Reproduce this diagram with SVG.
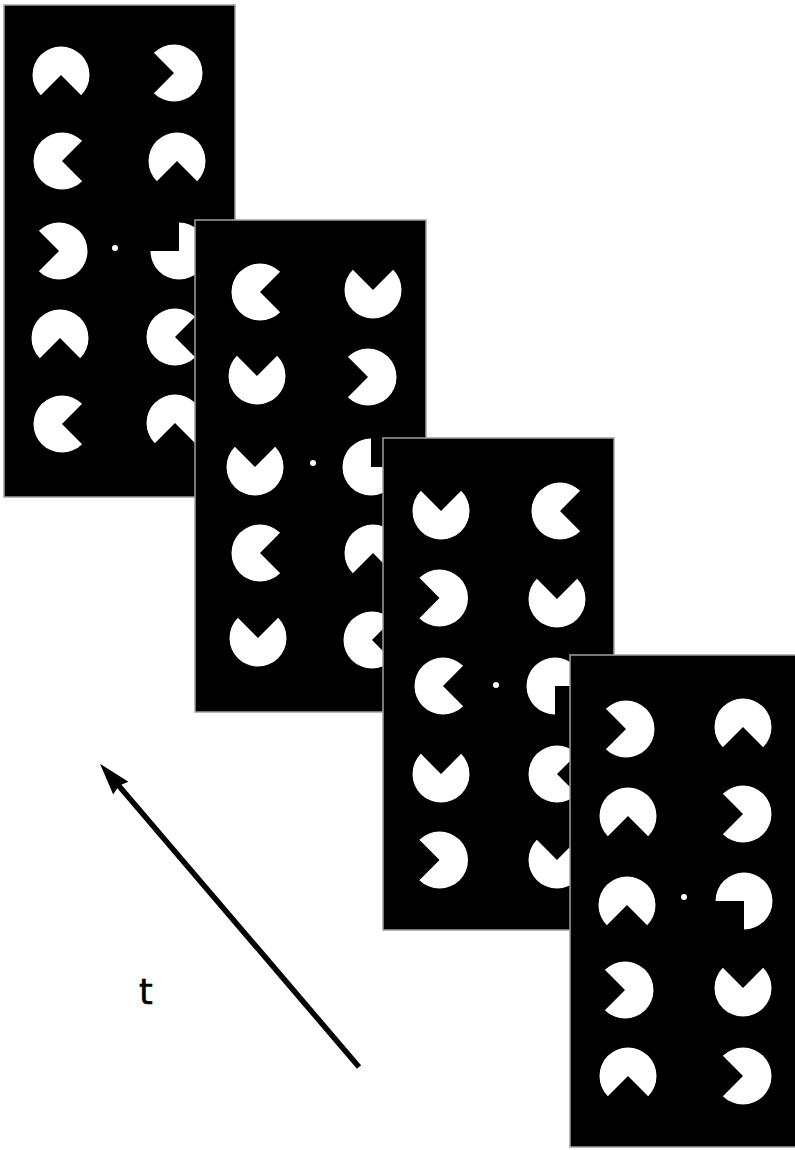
<svg xmlns="http://www.w3.org/2000/svg" xmlns:xlink="http://www.w3.org/1999/xlink" width="795" height="1150" viewBox="0 0 795 1150">
<style>
.panel{fill:#000;stroke:#a0a0a0;stroke-width:1.5}
.pac{fill:#fff}
.dot{fill:#fff}
.conn{stroke:#000;stroke-width:5.5;fill:none;stroke-linecap:butt}
.lbl{font-family:"DejaVu Sans",sans-serif;font-size:35px;fill:#000;stroke:#000;stroke-width:0.6}
</style>
<defs>
<path id="pac" class="pac" d="M0,0 L20.15,20.15 A28.5,28.5 0 1 1 20.15,-20.15 Z"/>
<marker id="ah" markerUnits="userSpaceOnUse" markerWidth="40" markerHeight="30" viewBox="-15 -15 40 30" refX="0" refY="0" orient="auto" overflow="visible">
<path d="M20,0 L-12,-10 L-9,0 L-12,10 Z" fill="#000"/>
</marker>
</defs>
<rect width="795" height="1150" fill="#fff"/>

<g id="panel1">
<rect class="panel" x="4" y="5" width="231" height="492"/>
<use xlink:href="#pac" href="#pac" transform="translate(61,75) rotate(90)"/>
<use xlink:href="#pac" href="#pac" transform="translate(174,73) rotate(180)"/>
<use xlink:href="#pac" href="#pac" transform="translate(62,161) rotate(0)"/>
<use xlink:href="#pac" href="#pac" transform="translate(177,161) rotate(90)"/>
<use xlink:href="#pac" href="#pac" transform="translate(59,251) rotate(180)"/>
<use xlink:href="#pac" href="#pac" transform="translate(179,251) rotate(225)"/>
<use xlink:href="#pac" href="#pac" transform="translate(60,338) rotate(90)"/>
<use xlink:href="#pac" href="#pac" transform="translate(175,337) rotate(0)"/>
<use xlink:href="#pac" href="#pac" transform="translate(62,424) rotate(0)"/>
<use xlink:href="#pac" href="#pac" transform="translate(175,423) rotate(90)"/>
<circle class="dot" cx="115" cy="248" r="3"/>
</g>

<g id="panel2">
<rect class="panel" x="195" y="220" width="231" height="492"/>
<use xlink:href="#pac" href="#pac" transform="translate(260,292) rotate(0)"/>
<use xlink:href="#pac" href="#pac" transform="translate(373,290) rotate(270)"/>
<use xlink:href="#pac" href="#pac" transform="translate(257,376) rotate(270)"/>
<use xlink:href="#pac" href="#pac" transform="translate(368,377) rotate(180)"/>
<use xlink:href="#pac" href="#pac" transform="translate(255,467) rotate(270)"/>
<use xlink:href="#pac" href="#pac" transform="translate(371,467) rotate(315)"/>
<use xlink:href="#pac" href="#pac" transform="translate(260,553) rotate(0)"/>
<use xlink:href="#pac" href="#pac" transform="translate(373,553) rotate(90)"/>
<use xlink:href="#pac" href="#pac" transform="translate(258,638) rotate(270)"/>
<use xlink:href="#pac" href="#pac" transform="translate(372,640) rotate(0)"/>
<circle class="dot" cx="313" cy="463" r="3"/>
</g>

<g id="panel3">
<rect class="panel" x="383" y="438" width="231" height="492"/>
<use xlink:href="#pac" href="#pac" transform="translate(441,511) rotate(270)"/>
<use xlink:href="#pac" href="#pac" transform="translate(560,511) rotate(0)"/>
<use xlink:href="#pac" href="#pac" transform="translate(439.5,598) rotate(180)"/>
<use xlink:href="#pac" href="#pac" transform="translate(557,599) rotate(270)"/>
<use xlink:href="#pac" href="#pac" transform="translate(443,686) rotate(0)"/>
<use xlink:href="#pac" href="#pac" transform="translate(555,686) rotate(45)"/>
<use xlink:href="#pac" href="#pac" transform="translate(441,774) rotate(270)"/>
<use xlink:href="#pac" href="#pac" transform="translate(557,774) rotate(0)"/>
<use xlink:href="#pac" href="#pac" transform="translate(439.5,860) rotate(180)"/>
<use xlink:href="#pac" href="#pac" transform="translate(557,860) rotate(270)"/>
<circle class="dot" cx="496" cy="685" r="3"/>
</g>

<g id="panel4">
<rect class="panel" x="570" y="655" width="231" height="492"/>
<use xlink:href="#pac" href="#pac" transform="translate(626,729) rotate(180)"/>
<use xlink:href="#pac" href="#pac" transform="translate(743,727) rotate(90)"/>
<use xlink:href="#pac" href="#pac" transform="translate(628,816) rotate(90)"/>
<use xlink:href="#pac" href="#pac" transform="translate(743,814) rotate(180)"/>
<use xlink:href="#pac" href="#pac" transform="translate(627,905) rotate(90)"/>
<use xlink:href="#pac" href="#pac" transform="translate(744,901) rotate(135)"/>
<use xlink:href="#pac" href="#pac" transform="translate(625,990) rotate(180)"/>
<use xlink:href="#pac" href="#pac" transform="translate(743,988) rotate(270)"/>
<use xlink:href="#pac" href="#pac" transform="translate(628,1076) rotate(90)"/>
<use xlink:href="#pac" href="#pac" transform="translate(743,1076) rotate(180)"/>
<circle class="dot" cx="684" cy="897" r="3"/>
</g>

<g id="connectors">
<path class="conn" d="M359,1067 L113,779" marker-end="url(#ah)"/>
</g>

<g id="label-t">
<text class="lbl" x="139" y="1004">t</text>
</g>
</svg>
